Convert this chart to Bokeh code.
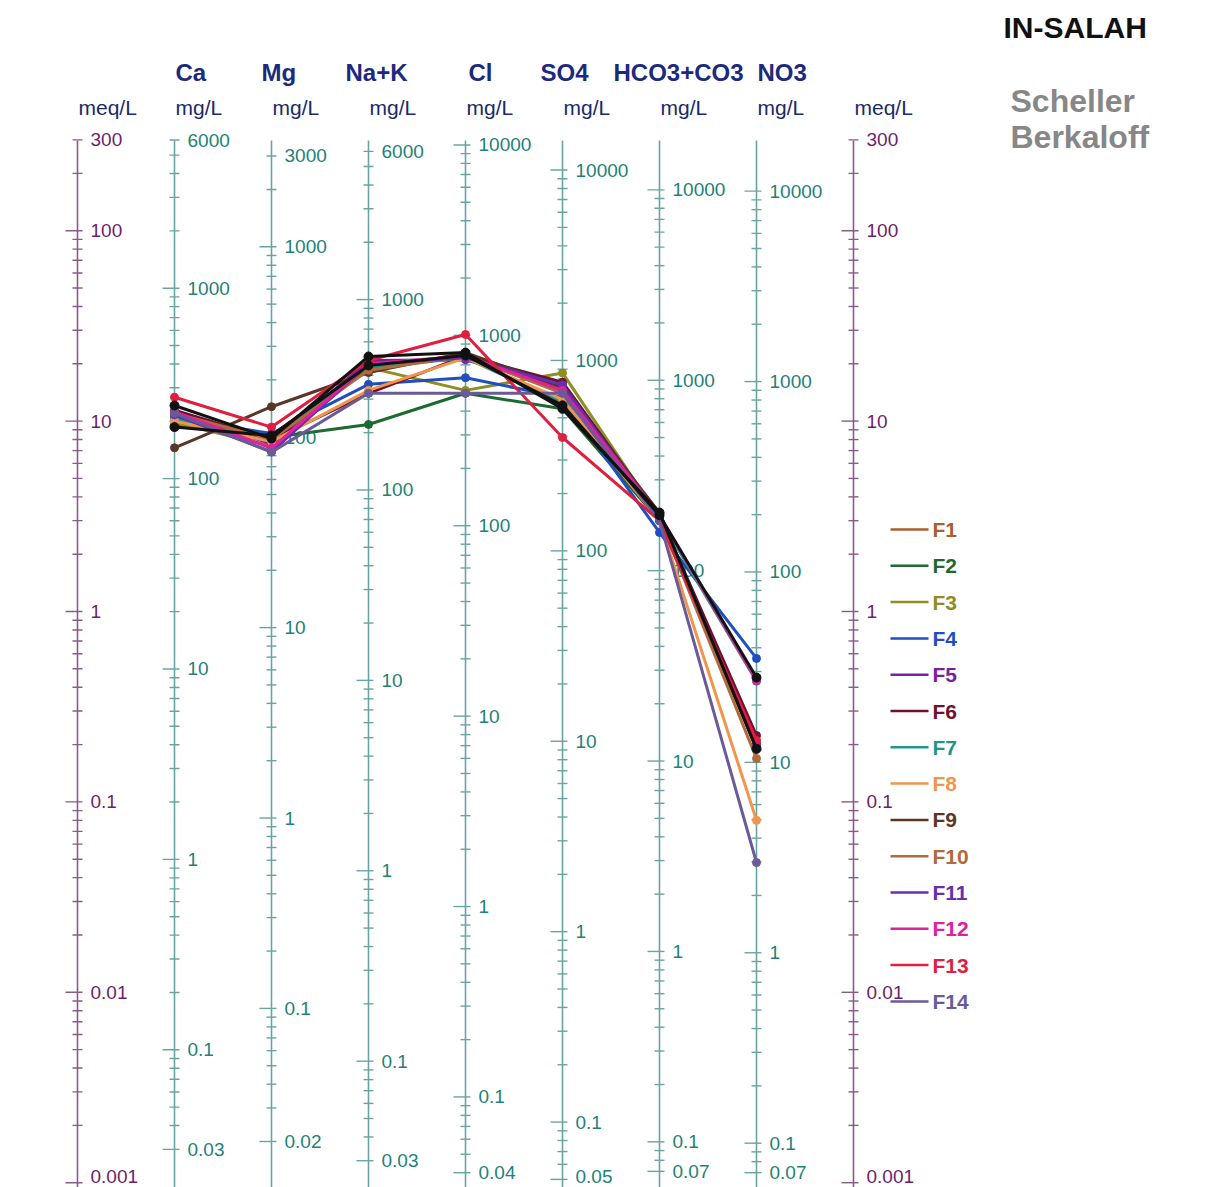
import math
from bokeh.plotting import figure
from bokeh.models import Range1d
from bokeh.core.properties import value
from bokeh.embed import file_html
from bokeh.resources import INLINE

# ---------------- data ----------------
ions = ["Ca", "Mg", "Na+K", "Cl", "SO4", "HCO3+CO3", "NO3"]
eq_weight = [20.04, 12.15, 23.0, 35.45, 48.03, 61.02, 62.0]
mg_top = [6000, 3000, 6000, 10000, 10000, 10000, 10000]
mg_bottom = [0.03, 0.02, 0.03, 0.04, 0.05, 0.07, 0.07]
meq_top = 300
meq_bottom = 0.001

series_names = ["F1", "F2", "F3", "F4", "F5", "F6", "F7", "F8", "F9", "F10", "F11", "F12", "F13", "F14"]
series_colors = ["#a8602e", "#1d6a30", "#8e8e22", "#1f4fbf", "#7a1f9e", "#6e1030", "#1f978a",
                 "#f0964c", "#5a3626", "#b06a3c", "#6430b0", "#e0219c", "#e01e40", "#6a5a98"]

# meq/L values: Ca, Mg, Na+K, Cl, SO4, HCO3+CO3, NO3
F1 = [10.7, 8.4, 19.6, 22.1, 14.1, 3.16, 0.19]
F2 = [9.5, 8.2, 9.6, 14.0, 11.6, 3.0, 0.20]
F3 = [9.8, 7.4, 19.1, 14.5, 17.9, 3.1, 0.21]
F4 = [10.4, 8.6, 15.6, 16.9, 13.3, 2.6, 0.567]
F5 = [11.0, 7.6, 20.8, 21.0, 15.0, 3.1, 0.20]
F6 = [11.4, 8.0, 14.0, 22.0, 16.0, 3.2, 0.223]
F7 = [10.2, 8.3, 19.0, 21.5, 12.5, 3.1, 0.43]
F8 = [10.0, 7.8, 14.5, 21.5, 13.0, 3.0, 0.08]
F9 = [7.24, 11.9, 18.0, 22.9, 15.0, 3.3, 0.19]
F10 = [11.0, 8.0, 18.5, 22.0, 14.0, 3.1, 0.169]
F11 = [10.8, 6.9, 20.0, 21.5, 15.5, 3.1, 0.20]
F12 = [11.2, 7.2, 20.0, 22.0, 14.5, 3.2, 0.434]
F13 = [13.35, 9.3, 20.8, 28.5, 8.2, 3.0, 0.21]
F14 = [11.0, 6.87, 14.0, 14.0, 14.0, 3.0, 0.048]
black_a = [12.08, 8.1, 21.85, 22.9, 11.6, 3.31, 0.19]
black_b = [9.3, 8.4, 19.6, 22.1, 12.1, 3.2, 0.45]
series_values = [F1, F2, F3, F4, F5, F6, F7, F8, F9, F10, F11, F12, F13, F14]

# ---------------- layout helpers ----------------
W, H = 1220, 1187
AX_LEFT = 77
AX_STEP = 97.0
axis_x = [AX_LEFT + AX_STEP * i for i in range(9)]  # meq, 7 ions, meq
Y0, PPD = 611.0, 190.4   # page-y of 1 meq/L, pixels per decade


def meq_at(ypix):
    return 10 ** ((Y0 - ypix) / PPD)


FONT = value("Liberation Sans")

p = figure(width=W, height=H, output_backend="svg", toolbar_location=None,
           x_range=Range1d(0, W), y_range=Range1d(meq_at(H), meq_at(0)),
           y_axis_type="log", x_axis_location=None, y_axis_location=None,
           min_border=0, outline_line_color=None, background_fill_color="white")
p.xgrid.visible = False
p.ygrid.visible = False

MEQ_LINE, MEQ_TXT = "#8a5a8a", "#6e1e6e"
MG_LINE, MG_TXT = "#6aa4a2", "#1e8278"


def tick_values(lo, hi):
    vals = []
    for k in range(-4, 6):
        for m in range(1, 10):
            v = m * 10 ** k
            if lo * 0.999 <= v <= hi * 1.001:
                vals.append((v, m == 1))
    return vals


def draw_axis(x, lo, hi, factor, line_col, txt_col):
    # vertical line
    p.segment(x0=[x], y0=[meq_at(1200)], x1=[x], y1=[meq_at(140)], line_color=line_col, line_width=1.6)
    tv = tick_values(lo, hi)
    vs = [v for v, _ in tv]
    if hi not in vs:
        tv.append((hi, False))
    if lo not in vs:
        tv.append((lo, True))
    else:
        tv = [(v, True if v == lo else mj) for v, mj in tv]
    x0 = [x - (12 if mj else 5) for v, mj in tv]
    x1 = [x + 5 for v, mj in tv]
    yy = [v / factor for v, mj in tv]
    p.segment(x0=x0, y0=yy, x1=x1, y1=yy, line_color=line_col, line_width=1.4)
    # labels
    labs = [hi]
    for k in range(6, -5, -1):
        d = 10.0 ** k
        if lo < d < hi and d not in labs:
            labs.append(d)
    labs.append(lo)
    ys = [v / factor for v in labs]
    # keep the lowest label inside the picture
    ys[-1] = max(ys[-1], meq_at(1176))
    p.text(x=[x + 13] * len(labs), y=ys, text=["%g" % v for v in labs],
           text_color=txt_col, text_font=FONT, text_font_size="19px",
           text_baseline="middle", text_align="left")


draw_axis(axis_x[0], meq_bottom, meq_top, 1.0, MEQ_LINE, MEQ_TXT)
draw_axis(axis_x[8], meq_bottom, meq_top, 1.0, MEQ_LINE, MEQ_TXT)
for i in range(7):
    draw_axis(axis_x[i + 1], mg_bottom[i], mg_top[i], eq_weight[i], MG_LINE, MG_TXT)

# headers
hdr_x = [axis_x[i + 1] + dx for i, dx in enumerate([1, -10, -23, 3, -22, -46, 1])]
p.text(x=hdr_x, y=[meq_at(72)] * 7, text=ions, text_color="#1c2a7e", text_font=FONT,
       text_font_size="24px", text_font_style="bold", text_baseline="middle", text_align="left")
unit_x = [axis_x[0] + 1] + [axis_x[i + 1] + 1 for i in range(7)] + [axis_x[8] + 1]
unit_t = ["meq/L"] + ["mg/L"] * 7 + ["meq/L"]
p.text(x=unit_x, y=[meq_at(107)] * 9, text=unit_t, text_color="#1c2a6a", text_font=FONT,
       text_font_size="21px", text_baseline="middle", text_align="left")

# title
p.text(x=[1003], y=[meq_at(27)], text=["IN-SALAH"], text_color="#111111", text_font=FONT,
       text_font_size="30px", text_font_style="bold", text_baseline="middle", text_align="left")
p.text(x=[1010, 1010], y=[meq_at(100), meq_at(136)], text=["Scheller", "Berkaloff"],
       text_color="#878787", text_font=FONT, text_font_size="32px", text_font_style="bold",
       text_baseline="middle", text_align="left")

# series
ion_x = axis_x[1:8]
for vals, col in zip(series_values, series_colors):
    p.line(ion_x, vals, line_color=col, line_width=3)
    p.scatter(ion_x, vals, size=8, fill_color=col, line_color=col)
for vals in (black_a, black_b):
    p.line(ion_x, vals, line_color="#111111", line_width=3)
    p.scatter(ion_x, vals, size=9, fill_color="#111111", line_color="#111111")

# legend
for k, (name, col) in enumerate(zip(series_names, series_colors)):
    yk = meq_at(529 + 36.3 * k)
    p.segment(x0=[890], y0=[yk], x1=[928], y1=[yk], line_color=col, line_width=2.5)
    p.text(x=[932], y=[yk], text=[name], text_color=col, text_font=FONT, text_font_size="21px",
           text_font_style="bold", text_baseline="middle", text_align="left")

open("out.html", "w").write(file_html(p, INLINE))
